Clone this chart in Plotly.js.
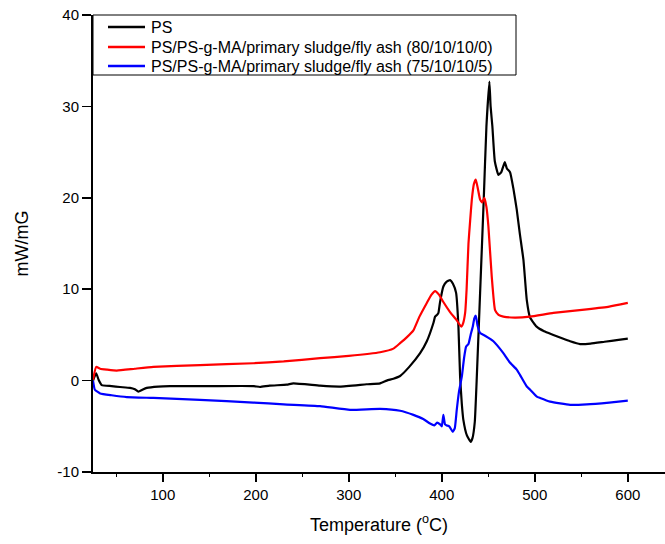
<!DOCTYPE html>
<html>
<head>
<meta charset="utf-8">
<script src="https://cdn.plot.ly/plotly-3.0.1.min.js"></script>
<style>html,body{margin:0;padding:0;background:#fff;}#chart{width:665px;height:544px;}</style>
</head>
<body>
<div id="chart"></div>
<script>
// Temperature (°C) and heat flow (mW/mG)
var psT = [25, 28.4, 31, 34.4, 45, 54, 64.8, 70, 73.8, 78, 82.8, 95, 107.8, 150, 197.4, 204.6, 215, 233.3, 240.4, 269.1, 290.6, 319.2, 333.7, 340.8, 348, 355.2, 365, 376.7, 383.9, 391, 392.8, 395, 396.4, 398, 401.7, 405, 408.9, 412, 415.4, 417.9, 419.7, 421.5, 423.2, 427, 431.1, 433, 435.5, 437.5, 441.2, 445, 448, 451.2, 452.5, 454.4, 457, 460.9, 464, 467.7, 470, 473.4, 477, 480.6, 484, 487.8, 491.4, 494.9, 502, 510, 520, 530, 538, 548.7, 560, 575, 590, 600];
var psY = [0, 0.8, 0.1, -0.5, -0.6, -0.7, -0.8, -0.95, -1.2, -1.0, -0.8, -0.65, -0.6, -0.6, -0.6, -0.7, -0.55, -0.45, -0.3, -0.55, -0.65, -0.4, -0.3, 0, 0.2, 0.5, 1.5, 3.0, 4.3, 6.3, 7.0, 7.2, 7.4, 8.5, 10.3, 10.8, 11.0, 10.6, 9.6, 5.9, 0.4, -2.5, -4.3, -6.0, -6.7, -6.3, -4.5, 0, 9.6, 19.5, 27.8, 32.7, 30, 27.8, 24, 22.5, 22.8, 23.9, 23.2, 22.8, 21, 18.7, 16, 13.2, 8.8, 6.9, 5.9, 5.4, 5.0, 4.6, 4.3, 4.0, 4.05, 4.25, 4.45, 4.6];

var redT = [25, 28.4, 32.7, 40, 50.5, 70, 89.9, 140, 197.4, 230, 269.1, 300, 333.7, 348, 355.2, 362, 369.5, 376, 383.9, 389, 392.8, 397, 401.7, 408.9, 416.1, 420.8, 423, 425.1, 426.7, 428.7, 430.5, 432.3, 434.5, 436.6, 438.8, 441.2, 443.5, 445.8, 448, 450.1, 453.7, 457.3, 461, 466.2, 478.5, 494.9, 520, 555.9, 580, 600];
var redY = [0.1, 1.5, 1.3, 1.2, 1.1, 1.3, 1.5, 1.7, 1.9, 2.1, 2.45, 2.7, 3.1, 3.5, 4.1, 4.7, 5.5, 7.0, 8.5, 9.4, 9.8, 9.4, 8.6, 7.5, 6.6, 5.9, 6.3, 7.4, 10, 15.0, 17.5, 19.8, 21.5, 22.0, 21, 19.8, 19.5, 20.0, 19, 16.9, 11.4, 7.7, 7.2, 7.0, 6.9, 7.0, 7.4, 7.8, 8.1, 8.5];

var blueT = [25, 27, 32.7, 45, 61.3, 89.9, 140, 197.4, 230, 269.1, 301.4, 333.7, 355.2, 369.5, 380, 387.4, 392, 395, 398.2, 400, 401.7, 403.5, 405.3, 408, 411.8, 414, 416.1, 418.5, 421.5, 424, 426.1, 428.7, 431, 433.3, 435, 436.6, 438.5, 441.2, 446.5, 455.5, 466.2, 473, 480.6, 484.2, 491.4, 495, 502.2, 505.7, 516.5, 527.2, 538, 555.9, 580, 600];
var blueY = [0, -1.0, -1.4, -1.6, -1.8, -1.9, -2.1, -2.4, -2.6, -2.8, -3.2, -3.1, -3.3, -3.75, -4.2, -4.7, -4.9, -4.6, -4.8, -5.0, -3.75, -4.8, -4.9, -5.0, -5.6, -5.2, -3.2, -1.2, 0.4, 2.5, 3.7, 4.0, 5.0, 5.9, 6.8, 7.1, 6.0, 5.2, 4.9, 4.3, 3.0, 2.0, 1.2, 0.6, -0.65, -1.0, -1.75, -1.9, -2.3, -2.5, -2.65, -2.6, -2.4, -2.2];

var seriesNames = ['PS', 'PS/PS-g-MA/primary sludge/fly ash (80/10/10/0)', 'PS/PS-g-MA/primary sludge/fly ash (75/10/10/5)'];
var seriesColors = ['#000000', '#ff0000', '#0000ff'];
var xTickVals = [100, 200, 300, 400, 500, 600];
var yTickVals = [-10, 0, 10, 20, 30, 40];

var FONT = 'Arial, "Liberation Sans", sans-serif';
var W = 665, H = 544, ML = 93, MR = 0, MT = 15, MB = 72;
var PW = W - ML - MR, PH = H - MT - MB;
function px2x(px) { return (px - ML) / PW; }
function px2y(py) { return (H - MB - py) / PH; }

var series = [[psT, psY], [redT, redY], [blueT, blueY]];
var traces = series.map(function (s, i) {
  return {x: s[0], y: s[1], name: seriesNames[i], mode: 'lines', showlegend: false,
          line: {color: seriesColors[i], width: 2.2, shape: 'spline', smoothing: 0.4}};
});

// legend box drawn as layout shapes + annotations
var legendRowsPx = [27, 47, 66];
var shapes = [{
  type: 'rect', xref: 'paper', yref: 'paper', layer: 'above',
  x0: px2x(93), x1: px2x(516), y0: px2y(75), y1: px2y(15),
  fillcolor: '#ffffff', line: {color: '#000000', width: 1}
}];
var annotations = [];
seriesNames.forEach(function (name, i) {
  shapes.push({type: 'line', xref: 'paper', yref: 'paper', layer: 'above',
    x0: px2x(108), x1: px2x(145), y0: px2y(legendRowsPx[i]), y1: px2y(legendRowsPx[i]),
    line: {color: seriesColors[i], width: 2.5}});
  annotations.push({xref: 'paper', yref: 'paper', x: px2x(149), y: px2y(legendRowsPx[i]),
    xanchor: 'left', yanchor: 'middle', showarrow: false, text: name,
    font: {family: FONT, size: 16, color: '#000'}});
});

var layout = {
  width: W, height: H,
  margin: {l: ML, r: MR, t: MT, b: MB, pad: 0},
  paper_bgcolor: '#ffffff', plot_bgcolor: '#ffffff',
  font: {family: FONT, color: '#000000', size: 15},
  showlegend: false,
  shapes: shapes,
  annotations: annotations,
  xaxis: {
    range: [25, 640],
    tickmode: 'array', tickvals: xTickVals, ticktext: xTickVals.map(String),
    ticks: 'outside', ticklen: 8, tickwidth: 1.5, tickcolor: '#000',
    minor: {dtick: 50, tick0: 0, ticks: 'outside', ticklen: 3, tickwidth: 1, tickcolor: '#000', showgrid: false},
    showline: true, linecolor: '#000', linewidth: 2,
    showgrid: false, zeroline: false,
    tickfont: {family: FONT, size: 15, color: '#000'},
    title: {text: 'Temperature (<sup>o</sup>C)', font: {family: FONT, size: 18, color: '#000'}, standoff: 16}
  },
  xaxis2: {
    overlaying: 'x', side: 'top', anchor: 'y',
    range: [25, 640],
    tickmode: 'linear', tick0: 0, dtick: 50,
    ticks: 'inside', ticklen: 2, tickwidth: 1, tickcolor: '#000',
    showticklabels: false, showline: true, linecolor: '#000', linewidth: 1.5,
    showgrid: false, zeroline: false
  },
  yaxis: {
    range: [-10, 40],
    tickmode: 'array', tickvals: yTickVals, ticktext: yTickVals.map(String),
    ticks: 'outside', ticklen: 9, tickwidth: 1.5, tickcolor: '#000',
    showline: true, linecolor: '#000', linewidth: 2,
    showgrid: false, zeroline: false,
    tickfont: {family: FONT, size: 15, color: '#000'},
    title: {text: 'mW/mG', font: {family: FONT, size: 18, color: '#000'}, standoff: 24}
  }
};

Plotly.newPlot('chart', traces, layout, {displayModeBar: false, staticPlot: true});
</script>
</body>
</html>
